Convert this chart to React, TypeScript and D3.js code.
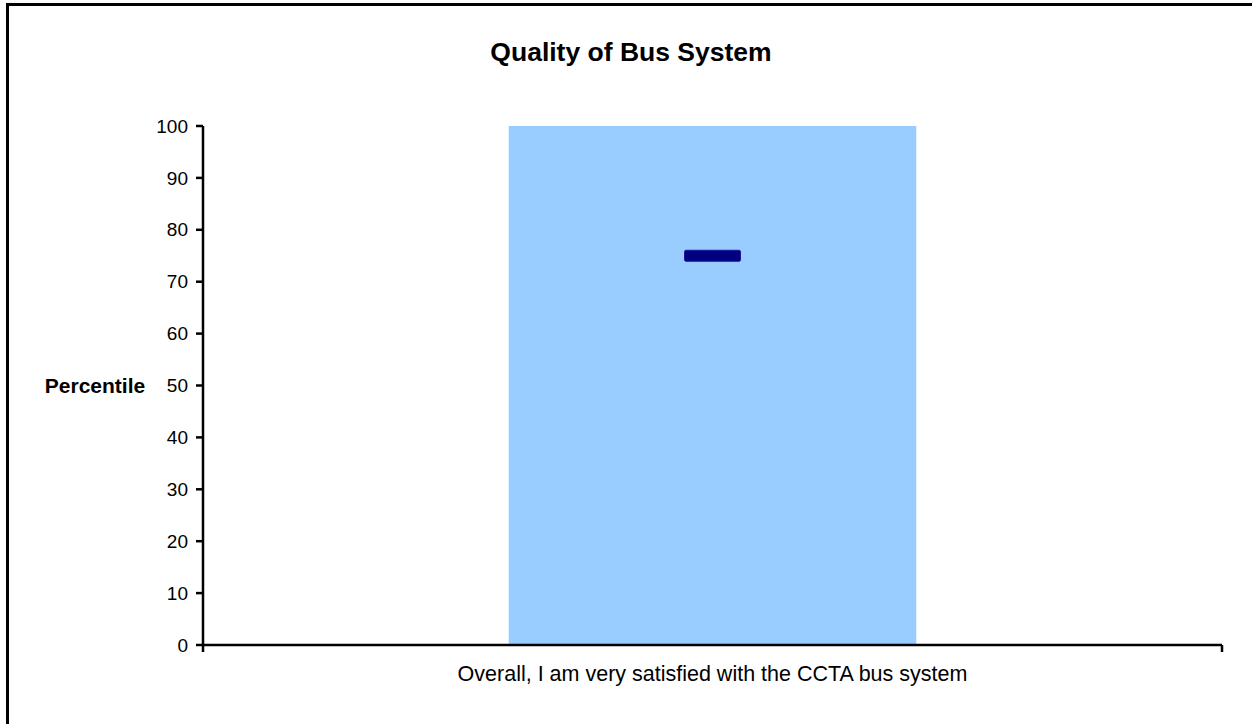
import React from "react";
import * as d3 from "d3";

const title = "Quality of Bus System";
const yAxisLabel = "Percentile";
const categories = ["Overall, I am very satisfied with the CCTA bus system"];
const rangeValues = [100];
const percentileValues = [75];
const yTicks = [0, 10, 20, 30, 40, 50, 60, 70, 80, 90, 100];

const W = 1252;
const H = 724;
const FONT = "Arial, 'Liberation Sans', Helvetica, sans-serif";

export default function App() {
  const plotLeft = 203;
  const plotRight = 1222;
  const plotTop = 126;
  const plotBottom = 645;

  const y = d3.scaleLinear().domain([0, 100]).range([plotBottom, plotTop]);
  const x = d3
    .scaleBand<string>()
    .domain(categories)
    .range([plotLeft, plotRight])
    .paddingInner(0.6)
    .paddingOuter(0.3);

  const markerW = 56;
  const markerH = 11;

  return (
    <svg
      width={W}
      height={H}
      style={{ position: "absolute", left: 0, top: 0, background: "#fff" }}
      fontFamily={FONT}
    >
      <rect x={0} y={0} width={W} height={H} fill="#fff" />
      {/* outer frame */}
      <rect x={7.5} y={4.5} width={W + 10} height={H + 10} fill="none" stroke="#000" strokeWidth={3} />

      <text x={631} y={61} textAnchor="middle" fontSize={26.5} fontWeight="bold" fill="#000">
        {title}
      </text>

      {categories.map((c, i) => (
        <rect
          key={c}
          x={x(c)}
          y={y(rangeValues[i])}
          width={x.bandwidth()}
          height={y(0) - y(rangeValues[i])}
          fill="#99CCFF"
        />
      ))}

      {categories.map((c, i) => {
        const cx = (x(c) as number) + x.bandwidth() / 2;
        const cy = y(percentileValues[i]);
        return (
          <rect
            key={"m" + c}
            x={cx - markerW / 2}
            y={cy - markerH / 2}
            width={markerW}
            height={markerH}
            rx={1.5}
            fill="#000080"
            stroke="#1a1a99"
            strokeWidth={1}
          />
        );
      })}

      {/* y axis */}
      <line x1={plotLeft} x2={plotLeft} y1={plotTop} y2={plotBottom + 7} stroke="#000" strokeWidth={2.5} />
      {yTicks.map((t) => (
        <g key={t}>
          <line x1={plotLeft - 7} x2={plotLeft} y1={y(t)} y2={y(t)} stroke="#000" strokeWidth={2.5} />
          <text x={plotLeft - 15} y={y(t)} dy="0.35em" textAnchor="end" fontSize={19} fill="#000">
            {t}
          </text>
        </g>
      ))}

      {/* x axis */}
      <line x1={plotLeft} x2={plotRight} y1={plotBottom} y2={plotBottom} stroke="#000" strokeWidth={2.5} />
      <line x1={plotRight} x2={plotRight} y1={plotBottom} y2={plotBottom + 7} stroke="#000" strokeWidth={2.5} />
      {categories.map((c) => (
        <text
          key={"l" + c}
          x={(x(c) as number) + x.bandwidth() / 2}
          y={681}
          textAnchor="middle"
          fontSize={21.5}
          fill="#000"
        >
          {c}
        </text>
      ))}

      <text x={95} y={y(50)} dy="0.35em" textAnchor="middle" fontSize={21} fontWeight="bold" fill="#000">
        {yAxisLabel}
      </text>
    </svg>
  );
}
